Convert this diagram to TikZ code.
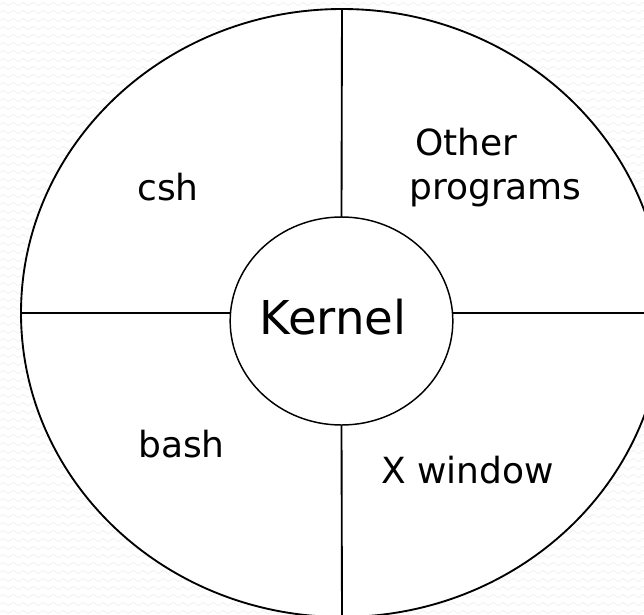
\documentclass[tikz,border=0pt]{standalone}
\usepackage{fontspec}
\setmainfont{DejaVu Sans}
\usetikzlibrary{shapes.geometric,decorations.pathmorphing}
\tikzset{
  bgwave/.style={draw=black!6, line width=0.5pt, decorate, decoration={snake, segment length=7.5pt, amplitude=1.2pt}},
  ring/.style={draw=black, ellipse, inner sep=0pt, outer sep=0pt},
  divider/.style={draw=black, line width=1.4pt},
  lbl/.style={inner sep=0pt, anchor=base, font=\fontsize{27pt}{32pt}\selectfont},
  biglbl/.style={inner sep=0pt, anchor=base, font=\fontsize{35pt}{42pt}\selectfont}
}
\begin{document}
\begin{tikzpicture}[x=0.75pt, y=-0.75pt]
  \useasboundingbox (0,0) rectangle (644,615);
  \clip (0,0) rectangle (644,615);
  \fill[white] (0,0) rectangle (644,615);
  \foreach \yy in {4,12,...,620} {
    \path[bgwave] (-10,\yy) -- (660,\yy);
  }
  \node[ring, fill=white, line width=1.4pt, minimum width=481.5pt, minimum height=456pt] (outer) at (342,313) {};
  \node[ring, line width=1.1pt, minimum width=167pt, minimum height=156pt] (inner) at (341.5,321) {};
  \draw[divider] (outer.north) -- (inner.north);
  \draw[divider] (inner.south) -- (outer.south);
  \draw[divider] (outer.west) -- (outer.west -| inner.west);
  \draw[divider] (inner.east |- outer.east) -- (outer.east);
  \node[biglbl] (kernel) at (333,334) {Kernel};
  \node[lbl] (csh) at (168,200) {csh};
  \node[lbl, anchor=base west] (other) at (415,155) {Other};
  \node[lbl, anchor=base west] (programs) at (409,199) {programs};
  \node[lbl] (bash) at (181.5,457) {bash};
  \node[lbl] (xwin) at (467.5,483) {X window};
\end{tikzpicture}
\end{document}
